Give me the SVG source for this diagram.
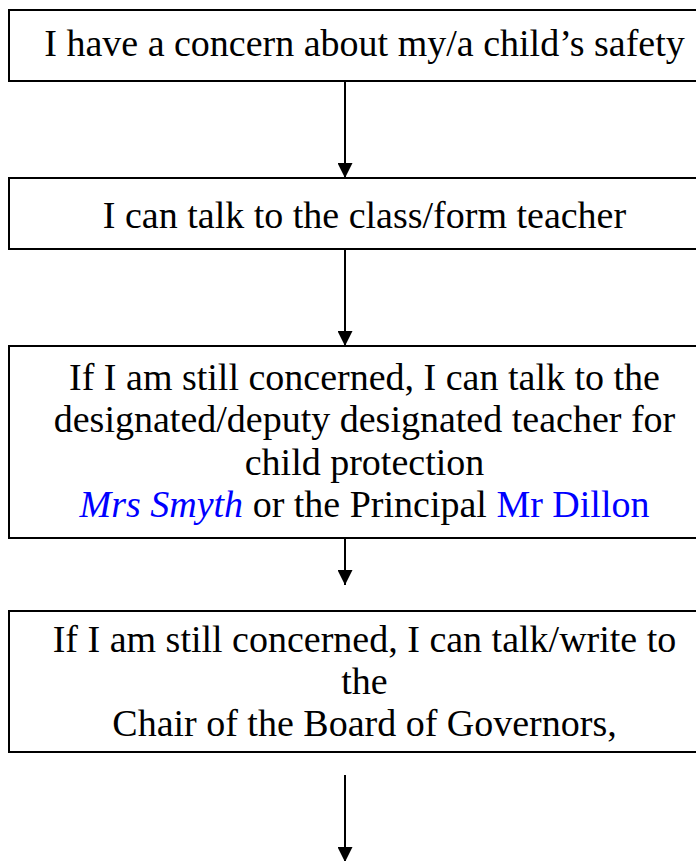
<svg xmlns="http://www.w3.org/2000/svg" width="696" height="861" viewBox="0 0 696 861">
<defs>
<style>
.box{fill:#fff;stroke:#000;stroke-width:2}
.t{font-family:'Liberation Serif','Times New Roman',serif;font-size:38px;fill:#000;text-anchor:middle}
.blue{fill:#0000ff}
.it{font-style:italic}
.conn{stroke:#000;stroke-width:2;fill:none;marker-end:url(#ah)}
</style>
<marker id="ah" markerWidth="15" markerHeight="15" viewBox="0 0 15 15" refX="15" refY="7.5" orient="auto" markerUnits="userSpaceOnUse">
<path d="M0,0 L15,7.5 L0,15 Z" fill="#000"/>
</marker>
</defs>
<rect width="696" height="861" fill="#fff"/>
<g id="connectors">
<line class="conn" x1="345" y1="81" x2="345" y2="178"/>
<line class="conn" x1="345" y1="249" x2="345" y2="346"/>
<line class="conn" x1="345" y1="538" x2="345" y2="585"/>
<line class="conn" x1="345" y1="775" x2="345" y2="862"/>
</g>
<g id="n1">
<rect class="box" x="9" y="10" width="712" height="71"/>
<text class="t" x="364.5" y="56">I have a concern about my/a child’s safety</text>
</g>
<g id="n2">
<rect class="box" x="9" y="178" width="712" height="71"/>
<text class="t" x="364.5" y="228">I can talk to the class/form teacher</text>
</g>
<g id="n3">
<rect class="box" x="9" y="346" width="712" height="192"/>
<text class="t" x="364.5" y="390">If I am still concerned, I can talk to the</text>
<text class="t" x="364.5" y="432">designated/deputy designated teacher for</text>
<text class="t" x="364.5" y="475">child protection</text>
<text class="t" x="364.5" y="517"><tspan class="blue it">Mrs Smyth</tspan> or the Principal <tspan class="blue">Mr Dillon</tspan></text>
</g>
<g id="n4">
<rect class="box" x="9" y="611" width="712" height="141"/>
<text class="t" x="364.5" y="652">If I am still concerned, I can talk/write to</text>
<text class="t" x="364.5" y="694">the</text>
<text class="t" x="364.5" y="736">Chair of the Board of Governors,</text>
</g>
</svg>
